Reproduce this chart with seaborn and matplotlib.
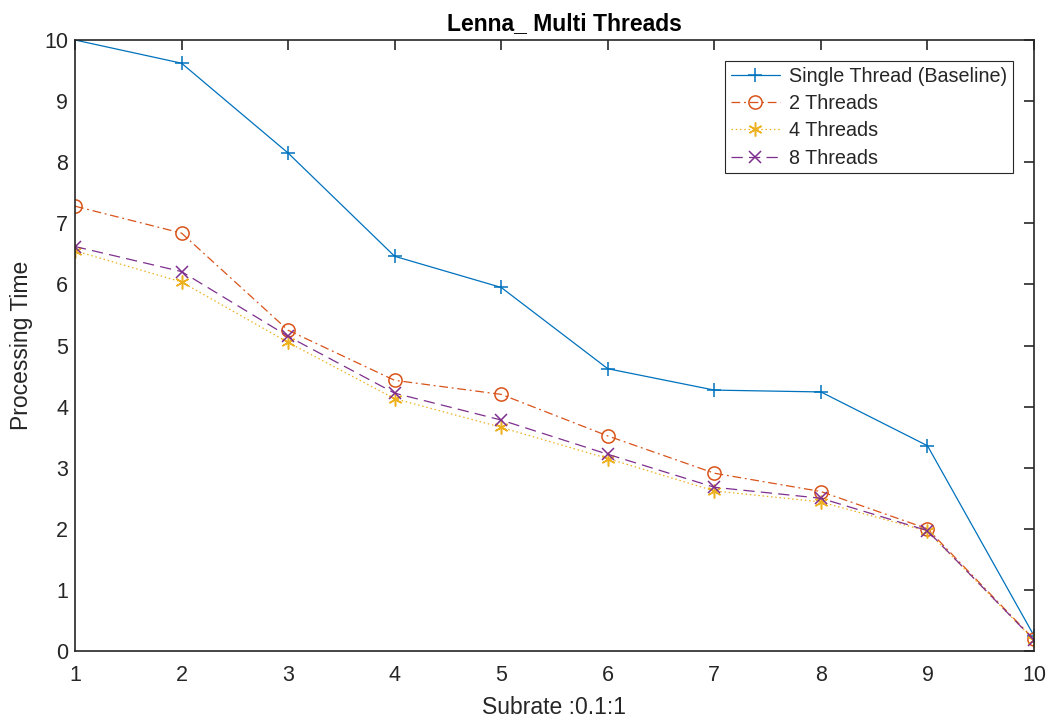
import matplotlib
matplotlib.use("Agg")
import matplotlib.pyplot as plt
import seaborn as sns
import pandas as pd

subrate = [1, 2, 3, 4, 5, 6, 7, 8, 9, 10]
single = [10.0, 9.62, 8.15, 6.46, 5.95, 4.62, 4.27, 4.24, 3.36, 0.25]
two = [7.28, 6.84, 5.25, 4.43, 4.20, 3.52, 2.91, 2.61, 2.00, 0.19]
four = [6.55, 6.04, 5.05, 4.13, 3.66, 3.15, 2.62, 2.44, 1.96, 0.18]
eight = [6.62, 6.21, 5.15, 4.22, 3.78, 3.22, 2.68, 2.50, 1.97, 0.18]
labels = ["Single Thread (Baseline)", "2 Threads", "4 Threads", "8 Threads"]

sns.set_theme(style="white")
plt.rcParams['font.family'] = ['Liberation Sans', 'DejaVu Sans']

fig = plt.figure(figsize=(10.59, 7.18), dpi=100)
ax = fig.add_axes([0.0708, 0.0933, 0.9056, 0.851])

colors = ["#0072BD", "#D95319", "#EDB120", "#7E2F8E"]
dash_list = [None, (7, 3, 1.5, 3), (1.2, 2.2), (9, 5)]
markers = ["+", "o", (6, 2, 0), "x"]
msizes = [10, 9.5, 10, 8]
series = [single, two, four, eight]

for vals, lab, c, dsh, mk, ms in zip(series, labels, colors, dash_list, markers, msizes):
    df = pd.DataFrame({"x": subrate, "y": vals})
    kw = {}
    if dsh is not None:
        kw["dashes"] = dsh
    sns.lineplot(data=df, x="x", y="y", ax=ax, color=c, marker=mk,
                 markersize=ms, markerfacecolor="none", markeredgecolor=c,
                 markeredgewidth=1.1, linewidth=0.9, label=lab, **kw)

ax.set_xlim(1, 10)
ax.set_ylim(0, 10)
ax.set_xticks(range(1, 11))
ax.set_yticks(range(0, 11))
ax.tick_params(direction="in", length=7, width=1.2, labelsize=15.5, top=True, right=True,
               colors="#262626", labelcolor="#262626")
ax.tick_params(axis="x", pad=10)
ax.tick_params(axis="y", pad=5)
for s in ax.spines.values():
    s.set_color("#262626")
    s.set_linewidth(1.2)
ax.set_xlabel("Subrate :0.1:1", fontsize=16.5, color="#262626", labelpad=7)
ax.set_ylabel("Processing Time", fontsize=16.5, color="#262626", labelpad=8)
ax.set_title("Lenna_ Multi Threads", fontsize=16.5, fontweight="bold", pad=7,
             color="black", x=0.51)

leg = ax.legend(loc="upper right", bbox_to_anchor=(0.978, 0.966), borderaxespad=0,
                fontsize=14.2, frameon=True, fancybox=False, edgecolor="#262626",
                framealpha=1, borderpad=0.3, labelspacing=0.42, handlelength=2.5,
                handletextpad=0.45)
leg.get_frame().set_linewidth(0.8)

fig.savefig("out.png", dpi=100)
